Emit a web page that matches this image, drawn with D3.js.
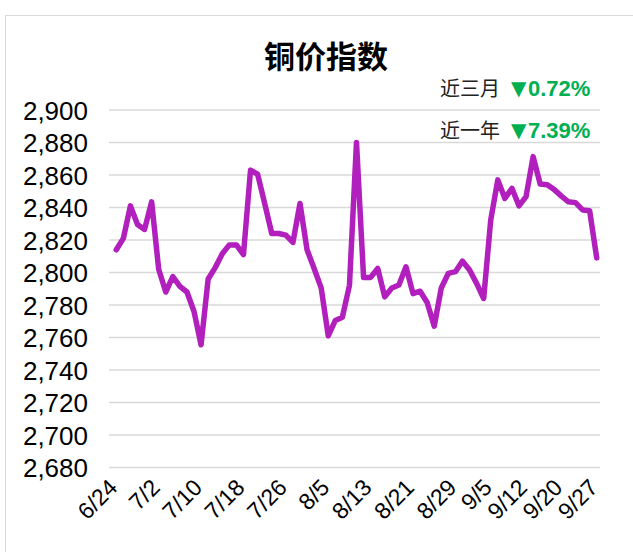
<!DOCTYPE html>
<html>
<head>
<meta charset="utf-8">
<script src="https://cdn.jsdelivr.net/npm/d3@7"></script>
<style>
  html, body { margin: 0; padding: 0; background: #fff; }
  svg { display: block; }
</style>
</head>
<body>
<svg id="chart" width="633" height="552"></svg>
<script>
// ---- data ----
const categories = [
  "6/24","6/25","6/26","6/27","6/28",
  "7/1","7/2","7/3","7/4","7/5",
  "7/8","7/9","7/10","7/11","7/12",
  "7/15","7/16","7/17","7/18","7/19",
  "7/22","7/23","7/24","7/25","7/26",
  "7/29","7/30","7/31","8/1","8/2",
  "8/5","8/6","8/7","8/8","8/9",
  "8/12","8/13","8/14","8/15","8/16",
  "8/19","8/20","8/21","8/22","8/23",
  "8/26","8/27","8/28","8/29","8/30",
  "9/2","9/3","9/4","9/5","9/6",
  "9/9","9/10","9/11","9/12","9/13",
  "9/14","9/18","9/19","9/20","9/23",
  "9/24","9/25","9/26","9/27"
];
const values = [
  2814, 2821, 2841, 2829.5, 2826.5,
  2843.5, 2802, 2788, 2797.5, 2791.5,
  2788, 2776, 2755.5, 2796, 2803,
  2811.5, 2817, 2817, 2811, 2863,
  2860.5, 2842.5, 2824, 2824, 2823,
  2818.5, 2842.5, 2814, 2802.5, 2790.5,
  2761, 2770.5, 2772.5, 2792, 2880,
  2797, 2797, 2802.5, 2785, 2790.5,
  2792.3, 2803.5, 2787, 2788.5, 2781.5,
  2767, 2790.5, 2799.5, 2800.5, 2807,
  2801.5, 2793.3, 2784, 2832.3, 2857,
  2845.6, 2851.8, 2841, 2846.7, 2871.3,
  2854.5, 2854, 2851, 2847, 2843.5,
  2843, 2838.5, 2838, 2809
];
const tickLabels = ["6/24","7/2","7/10","7/18","7/26","8/5","8/13","8/21","8/29","9/5","9/12","9/20","9/27"];
const yTicks = [2680,2700,2720,2740,2760,2780,2800,2820,2840,2860,2880,2900];
const title = "铜价指数";
const noteLabels = ["近三月", "近一年"];
const noteChanges = ["0.72%", "7.39%"];
const noteArrow = "▼";

// ---- drawing ----
const svg = d3.select("#chart");
const W = 633, H = 552;

// chart frame
svg.append("rect")
  .attr("x", 5.5).attr("y", 15.5)
  .attr("width", W + 10).attr("height", H + 10)
  .attr("fill", "#fff").attr("stroke", "#d9d9d9").attr("stroke-width", 1);

const x = d3.scalePoint().domain(categories).range([116.3, 596.7]);
const y = d3.scaleLinear().domain([2680, 2900]).range([467.5, 110]);

const gridLeft = 109, gridRight = 600;

// gridlines
svg.append("g").selectAll("line").data(yTicks).join("line")
  .attr("x1", gridLeft).attr("x2", gridRight)
  .attr("y1", d => y(d)).attr("y2", d => y(d))
  .attr("stroke", "#d9d9d9").attr("stroke-width", 1.5);

// y axis labels
const yAxis = d3.axisLeft(y).tickValues(yTicks).tickFormat(d3.format(",")).tickSize(0).tickPadding(0);
const gy = svg.append("g").attr("transform", "translate(88,0)").call(yAxis);
gy.select(".domain").remove();
gy.selectAll("text")
  .attr("font-family", "Liberation Sans, Arial, sans-serif")
  .attr("font-size", 26).attr("fill", "#000").attr("dy", "0.35em");

// x axis labels
const xAxis = d3.axisBottom(x).tickValues(tickLabels).tickSize(0).tickPadding(0);
const gx = svg.append("g").attr("transform", "translate(0,489)").call(xAxis);
gx.select(".domain").remove();
gx.selectAll("text")
  .attr("font-family", "Liberation Sans, Arial, sans-serif")
  .attr("font-size", 23).attr("fill", "#000")
  .attr("text-anchor", "end")
  .attr("y", 0)
  .attr("dy", 0)
  .attr("transform", "translate(2,0) rotate(-45)");

// line
const line = d3.line()
  .x((d, i) => x(categories[i]))
  .y(d => y(d));
svg.append("path")
  .datum(values)
  .attr("d", line)
  .attr("fill", "none")
  .attr("stroke", "#B11FBC")
  .attr("stroke-width", 5.5)
  .attr("stroke-linejoin", "round")
  .attr("stroke-linecap", "round");

// title
svg.append("text")
  .attr("x", 326).attr("y", 68)
  .attr("text-anchor", "middle")
  .attr("font-family", "Noto Sans CJK SC, sans-serif")
  .attr("font-weight", "bold")
  .attr("font-size", 31)
  .attr("fill", "#000")
  .text(title);

// annotations
const noteY = [96, 138];
noteLabels.forEach((lab, i) => {
  svg.append("text")
    .attr("x", 440).attr("y", noteY[i])
    .attr("font-family", "Noto Sans CJK SC, sans-serif")
    .attr("font-size", 20)
    .attr("fill", "#222")
    .text(lab);
  svg.append("text")
    .attr("x", 511).attr("y", noteY[i] - 1)
    .attr("font-family", "DejaVu Sans, sans-serif")
    .attr("font-size", 20)
    .attr("fill", "#00B050")
    .text(noteArrow);
  svg.append("text")
    .attr("x", 528).attr("y", noteY[i])
    .attr("font-family", "Liberation Sans, Arial, sans-serif")
    .attr("font-weight", "bold")
    .attr("font-size", 22)
    .attr("fill", "#00B050")
    .text(noteChanges[i]);
});
</script>
</body>
</html>
